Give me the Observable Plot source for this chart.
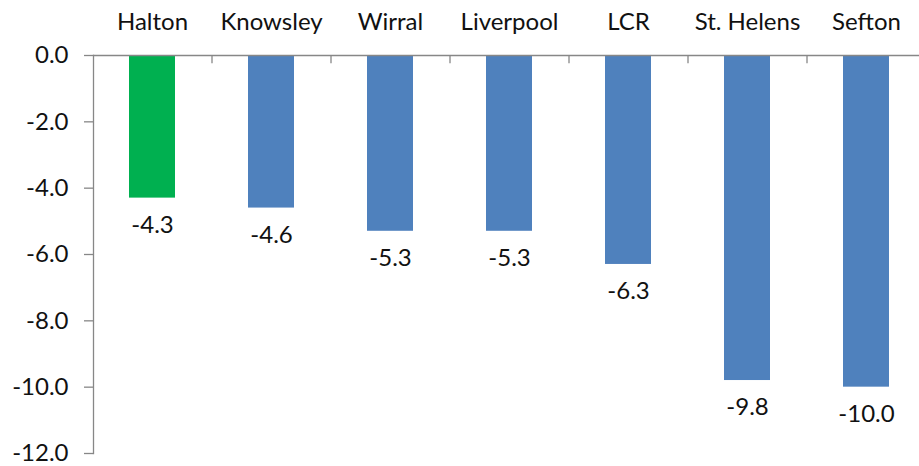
<!DOCTYPE html>
<html>
<head>
<meta charset="utf-8">
<script src="https://cdn.jsdelivr.net/npm/d3@7"></script>
<script src="https://cdn.jsdelivr.net/npm/@observablehq/plot@0.6"></script>
<style>
  html, body { margin: 0; padding: 0; background: #fff; }
  #chart svg { display: block; }
</style>
</head>
<body>
<div id="chart"></div>
<script>
const areas = ["Halton", "Knowsley", "Wirral", "Liverpool", "LCR", "St. Helens", "Sefton"];
const values = [-4.3, -4.6, -5.3, -5.3, -6.3, -9.8, -10.0];
const barColors = ["#00B050", "#4F81BD", "#4F81BD", "#4F81BD", "#4F81BD", "#4F81BD", "#4F81BD"];
const yTicks = [0, -2, -4, -6, -8, -10, -12];

const data = areas.map((a, i) => ({area: a, value: values[i], color: barColors[i]}));

const W = 919, H = 466;
const xRange = [93, 926];
const bw = (xRange[1] - xRange[0]) / areas.length;
const font = "Lato, 'Open Sans', sans-serif";
const axisGray = "#878787";
const fs = 24;

const chart = Plot.plot({
  width: W,
  height: H,
  marginTop: 55,
  marginBottom: 13,
  marginLeft: 93,
  marginRight: 0,
  style: {fontFamily: font, fontSize: fs + "px", color: "#111", background: "#fff"},
  x: {domain: areas, range: xRange, paddingInner: 0.61, paddingOuter: 0.305, align: 0.5},
  y: {domain: [-12, 0], ticks: yTicks},
  marks: [
    Plot.barY(data, {x: "area", y: "value", fill: "color"}),
    Plot.text(data, {x: "area", y: "value", text: d => d.value.toFixed(1), dy: 27, fontSize: fs, fill: "#111"}),
    Plot.ruleY([0], {stroke: axisGray, strokeWidth: 1.3}),
    Plot.ruleX(areas.slice(1), {x: d => d, y1: 0, y2: -0.25, dx: -bw / 2, stroke: axisGray, strokeWidth: 1.3}),
    Plot.frame({anchor: "left", stroke: axisGray, strokeWidth: 1.3}),
    Plot.axisY({ticks: yTicks, tickFormat: d => (d === 0 ? 0 : d).toFixed(1), tickSize: 9, tickPadding: 16, stroke: axisGray, strokeWidth: 1.3, fontSize: fs, fill: "#111", label: null}),
    Plot.axisX({anchor: "top", tickSize: 0, tickPadding: 26, fontSize: fs, fill: "#111", label: null})
  ]
});
document.getElementById("chart").appendChild(chart);
</script>
</body>
</html>
